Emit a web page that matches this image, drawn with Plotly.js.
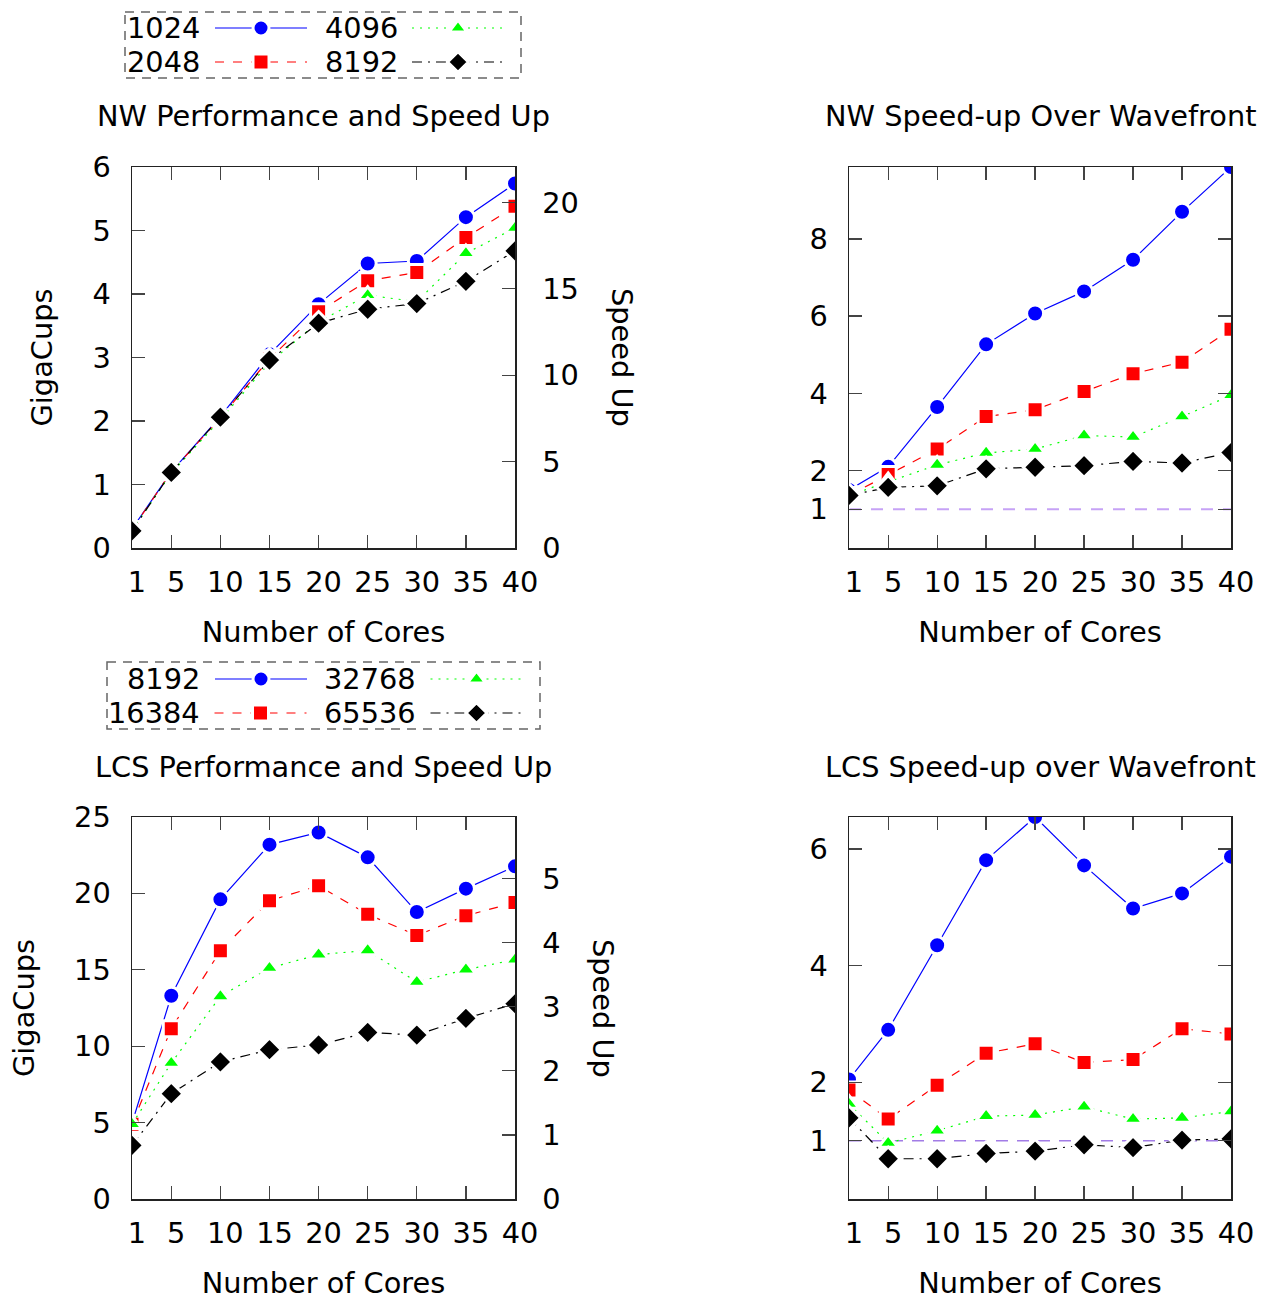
<!DOCTYPE html>
<html>
<head>
<meta charset="utf-8">
<script src="https://cdn.plot.ly/plotly-3.0.1.min.js"></script>
<style>html,body{margin:0;padding:0;background:#fff;}#chart{width:1270px;height:1301px;}</style>
</head>
<body>
<div id="chart"></div>
<script>
// ---------------- data ----------------
const cores = [1, 5, 10, 15, 20, 25, 30, 35, 40];
const coreTicks = [1, 5, 10, 15, 20, 25, 30, 35, 40];

// NW performance (GigaCups)
const nwLabels = ['1024', '2048', '4096', '8192'];
const nwPerf1024 = [0.30, 1.20, 2.07, 3.05, 3.84, 4.48, 4.52, 5.21, 5.74];
const nwPerf2048 = [0.29, 1.20, 2.05, 2.98, 3.72, 4.21, 4.34, 4.89, 5.38];
const nwPerf4096 = [0.28, 1.18, 2.02, 2.92, 3.56, 3.98, 3.88, 4.64, 5.04];
const nwPerf8192 = [0.27, 1.19, 2.06, 2.96, 3.54, 3.76, 3.85, 4.20, 4.68];

// NW speed-up over wavefront
const nwWf1024 = [1.50, 2.10, 3.65, 5.27, 6.07, 6.64, 7.46, 8.70, 9.86];
const nwWf2048 = [1.36, 1.90, 2.56, 3.40, 3.58, 4.05, 4.51, 4.81, 5.66];
const nwWf4096 = [1.36, 1.72, 2.15, 2.46, 2.56, 2.91, 2.87, 3.40, 3.95];
const nwWf8192 = [1.36, 1.57, 1.61, 2.05, 2.09, 2.13, 2.24, 2.20, 2.47];

// LCS performance (GigaCups)
const lcsLabels = ['8192', '16384', '32768', '65536'];
const lcsPerf8192 = [4.95, 13.30, 19.61, 23.19, 23.99, 22.36, 18.78, 20.31, 21.77];
const lcsPerf16384 = [4.90, 11.15, 16.25, 19.52, 20.50, 18.63, 17.25, 18.54, 19.41];
const lcsPerf32768 = [4.90, 8.90, 13.26, 15.12, 15.99, 16.27, 14.20, 15.01, 15.66];
const lcsPerf65536 = [3.51, 6.89, 8.97, 9.77, 10.08, 10.90, 10.73, 11.82, 12.78];

// LCS speed-up over wavefront
const lcsWf8192 = [2.05, 2.90, 4.35, 5.81, 6.55, 5.72, 4.98, 5.24, 5.87];
const lcsWf16384 = [1.87, 1.37, 1.95, 2.50, 2.66, 2.34, 2.39, 2.92, 2.83];
const lcsWf32768 = [1.63, 0.96, 1.17, 1.42, 1.44, 1.58, 1.37, 1.39, 1.50];
const lcsWf65536 = [1.39, 0.69, 0.69, 0.78, 0.82, 0.93, 0.88, 1.01, 1.03];

// wavefront baseline (speed-up = 1)
const baseCores = [1, 40];
const baseVal = [1, 1];

// secondary (speed-up) axis ranges and ticks
const nwSpeedMax = 22.05;
const nwSpeedTicks = [0, 5, 10, 15, 20];
const lcsSpeedMax = 5.96;
const lcsSpeedTicks = [0, 1, 2, 3, 4, 5];

// ---------------- styles ----------------
const W = 1270, H = 1301;
const FONT = 'DejaVu Sans, sans-serif';
const FS = 28.8;
const px = v => v / W;
const py = v => 1 - v / H;

const styles = [
  {color: '#0000ff', dash: 'solid', symbol: 'circle', size: 17},
  {color: '#ff0000', dash: '9px,9px', symbol: 'square', size: 16},
  {color: '#00ff00', dash: '2px,6px', symbol: 'triangle-up', size: 17},
  {color: '#000000', dash: '10px,6px,2px,6px', symbol: 'diamond', size: 18}
];

function series(x, y, name, st, xa, ya, legend, showlegend) {
  return {
    x: x, y: y, name: name, type: 'scatter', mode: 'lines+markers',
    xaxis: xa, yaxis: ya, legend: legend, showlegend: showlegend,
    line: {color: st.color, width: 1.2, dash: st.dash},
    marker: {symbol: st.symbol, size: st.size, color: st.color, line: {color: '#ffffff', width: 3}},
    hoverinfo: 'x+y+name'
  };
}

const traces = [];
const nwPerf = [nwPerf1024, nwPerf2048, nwPerf4096, nwPerf8192];
const nwWf = [nwWf1024, nwWf2048, nwWf4096, nwWf8192];
const lcsPerf = [lcsPerf8192, lcsPerf16384, lcsPerf32768, lcsPerf65536];
const lcsWf = [lcsWf8192, lcsWf16384, lcsWf32768, lcsWf65536];
const legTop = ['legend', 'legend2', 'legend3', 'legend4'];
const legBot = ['legend5', 'legend6', 'legend7', 'legend8'];

// baselines first (drawn underneath)
traces.push({x: baseCores, y: baseVal, xaxis: 'x2', yaxis: 'y3', mode: 'lines', type: 'scatter',
  line: {color: '#c6a2f6', width: 2, dash: '12px,10px'}, showlegend: false, hoverinfo: 'skip'});
traces.push({x: baseCores, y: baseVal, xaxis: 'x4', yaxis: 'y6', mode: 'lines', type: 'scatter',
  line: {color: '#a27ce6', width: 1.6, dash: '12px,9px'}, showlegend: false, hoverinfo: 'skip'});
// empty traces so the right-hand speed-up axes are drawn
traces.push({x: [cores[0]], y: [null], xaxis: 'x', yaxis: 'y2', mode: 'markers', type: 'scatter', showlegend: false, hoverinfo: 'skip'});
traces.push({x: [cores[0]], y: [null], xaxis: 'x3', yaxis: 'y5', mode: 'markers', type: 'scatter', showlegend: false, hoverinfo: 'skip'});

for (let i = 0; i < 4; i++) traces.push(series(cores, nwPerf[i], nwLabels[i], styles[i], 'x', 'y', legTop[i], true));
for (let i = 0; i < 4; i++) traces.push(series(cores, nwWf[i], nwLabels[i], styles[i], 'x2', 'y3', legTop[i], false));
for (let i = 0; i < 4; i++) traces.push(series(cores, lcsPerf[i], lcsLabels[i], styles[i], 'x3', 'y4', legBot[i], true));
for (let i = 0; i < 4; i++) traces.push(series(cores, lcsWf[i], lcsLabels[i], styles[i], 'x4', 'y6', legBot[i], false));

// plot areas in pixels
const TLx = [132, 515], TRx = [849, 1231];
const TOPy = [167, 548], BOTy = [817, 1199];

const tickFont = {family: FONT, size: FS, color: '#000'};
const titleFont = {family: FONT, size: FS, color: '#000'};

function xAxis(dom, anchor, title) {
  return {
    domain: [px(dom[0]), px(dom[1])], anchor: anchor, range: [1, 40],
    tickmode: 'array', tickvals: coreTicks, ticktext: coreTicks.map(String),
    ticks: 'inside', ticklen: 13, tickwidth: 1.3, tickcolor: '#444',
    showline: true, linecolor: '#222', linewidth: 1.5, mirror: 'ticks',
    showgrid: false, zeroline: false, tickfont: tickFont,
    ticklabelstandoff: 8, ticklabelshift: 5,
    title: {text: title, font: titleFont, standoff: 24}
  };
}
function yAxis(dom, anchor, range, tickvals, title, mirror) {
  const a = {
    domain: [py(dom[1]), py(dom[0])], anchor: anchor, range: range,
    tickmode: 'array', tickvals: tickvals, ticktext: tickvals.map(String),
    ticks: 'inside', ticklen: 13, tickwidth: 1.3, tickcolor: '#444',
    showline: true, linecolor: '#222', linewidth: 1.5, mirror: mirror,
    showgrid: false, zeroline: false, tickfont: tickFont,
    ticklabelstandoff: 14
  };
  if (title) a.title = {text: title, font: titleFont, standoff: 31};
  return a;
}

const nwWfMax = Math.max(...nwWf.flat());
const lcsWfMax = Math.max(...lcsWf.flat());

// one legend per entry: only the line sample is shown by the legend,
// the label is drawn to its left (as in the source chart)
function legendCfg(xCenter, yMid) {
  return {
    font: {family: FONT, size: 1, color: 'rgba(0,0,0,0)'},
    orientation: 'v', itemwidth: 92,
    x: px(xCenter), xanchor: 'center', y: py(yMid), yanchor: 'middle',
    bgcolor: 'rgba(0,0,0,0)', borderwidth: 0
  };
}
function legendLabel(text, xRight, yMid) {
  return {text: text, x: px(xRight), y: py(yMid), xref: 'paper', yref: 'paper', showarrow: false,
    font: titleFont, xanchor: 'right', yanchor: 'middle'};
}

const layout = {
  width: W, height: H,
  margin: {l: 0, r: 0, t: 0, b: 0},
  paper_bgcolor: '#fff', plot_bgcolor: '#fff',
  font: {family: FONT, size: FS, color: '#000'},
  xaxis: xAxis(TLx, 'y', 'Number of Cores'),
  yaxis: yAxis(TOPy, 'x', [0, 6], [0, 1, 2, 3, 4, 5, 6], 'GigaCups', true),
  yaxis2: Object.assign(yAxis(TOPy, 'x', [0, nwSpeedMax], nwSpeedTicks, null, false),
    {overlaying: 'y', side: 'right', ticklabelstandoff: 20}),
  xaxis2: xAxis(TRx, 'y3', 'Number of Cores'),
  yaxis3: yAxis(TOPy, 'x2', [0, nwWfMax], [1, 2, 4, 6, 8], null, 'ticks'),
  xaxis3: xAxis(TLx, 'y4', 'Number of Cores'),
  yaxis4: yAxis(BOTy, 'x3', [0, 25], [0, 5, 10, 15, 20, 25], 'GigaCups', true),
  yaxis5: Object.assign(yAxis(BOTy, 'x3', [0, lcsSpeedMax], lcsSpeedTicks, null, false),
    {overlaying: 'y4', side: 'right', ticklabelstandoff: 20}),
  xaxis4: xAxis(TRx, 'y6', 'Number of Cores'),
  yaxis6: yAxis(BOTy, 'x4', [0, lcsWfMax], [1, 2, 4, 6], null, 'ticks'),
  legend: legendCfg(265, 28),
  legend2: legendCfg(265, 62),
  legend3: legendCfg(462, 28),
  legend4: legendCfg(462, 62),
  legend5: legendCfg(265, 679),
  legend6: legendCfg(265, 713),
  legend7: legendCfg(481, 679),
  legend8: legendCfg(481, 713),
  shapes: [
    {type: 'rect', xref: 'paper', yref: 'paper', x0: px(125), x1: px(521), y0: py(12), y1: py(78),
      line: {color: '#666', width: 1.5, dash: '9px,7px'}},
    {type: 'rect', xref: 'paper', yref: 'paper', x0: px(107), x1: px(540), y0: py(662), y1: py(729),
      line: {color: '#666', width: 1.5, dash: '9px,7px'}}
  ],
  annotations: [
    legendLabel(nwLabels[0], 202, 28),
    legendLabel(nwLabels[1], 202, 62),
    legendLabel(nwLabels[2], 400, 28),
    legendLabel(nwLabels[3], 400, 62),
    legendLabel(lcsLabels[0], 202, 679),
    legendLabel(lcsLabels[1], 202, 713),
    legendLabel(lcsLabels[2], 418, 679),
    legendLabel(lcsLabels[3], 418, 713),
    {text: 'NW Performance and Speed Up', x: px(323.5), y: py(116), xref: 'paper', yref: 'paper', showarrow: false, font: titleFont, xanchor: 'center', yanchor: 'middle'},
    {text: 'NW Speed-up Over Wavefront', x: px(1040), y: py(116), xref: 'paper', yref: 'paper', showarrow: false, font: titleFont, xanchor: 'center', yanchor: 'middle'},
    {text: 'LCS Performance and Speed Up', x: px(323.5), y: py(767), xref: 'paper', yref: 'paper', showarrow: false, font: titleFont, xanchor: 'center', yanchor: 'middle'},
    {text: 'LCS Speed-up over Wavefront', x: px(1040), y: py(767), xref: 'paper', yref: 'paper', showarrow: false, font: titleFont, xanchor: 'center', yanchor: 'middle'},
    {text: 'Speed Up', x: px(622), y: py(357), xref: 'paper', yref: 'paper', showarrow: false, font: titleFont, textangle: 90, xanchor: 'center', yanchor: 'middle'},
    {text: 'Speed Up', x: px(603), y: py(1008), xref: 'paper', yref: 'paper', showarrow: false, font: titleFont, textangle: 90, xanchor: 'center', yanchor: 'middle'}
  ]
};

Plotly.newPlot('chart', traces, layout, {displayModeBar: false, staticPlot: true});
</script>
</body>
</html>
